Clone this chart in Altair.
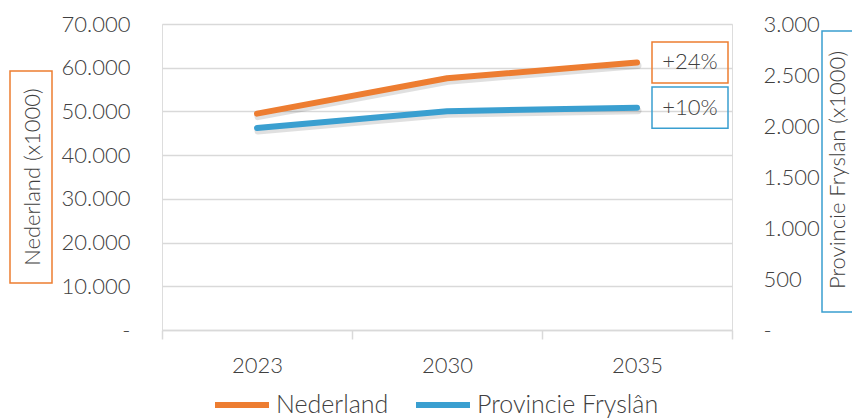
import altair as alt
import pandas as pd

years = ["2023", "2030", "2035"]
nederland = [49500, 57600, 61200]
fryslan = [1980, 2145, 2180]
series_names = ["Nederland", "Provincie Fryslân"]
growth_labels = ["+24%", "+10%"]
left_ticks = [0, 10000, 20000, 30000, 40000, 50000, 60000, 70000]
right_ticks = [0, 500, 1000, 1500, 2000, 2500, 3000]
left_title = "Nederland (x1000)"
right_title = "Provincie Fryslan (x1000)"

ORANGE = "#ED7D31"
BLUE = "#3A9FD0"
TEXT = "#404040"
GRID = "#D9D9D9"
FONT = "Lato"
FS = 22
FW = 300

df_nl = pd.DataFrame({"year": years, "value": nederland, "series": series_names[0]})
df_fy = pd.DataFrame({"year": years, "value": fryslan, "series": series_names[1]})
lab_nl = pd.DataFrame({"year": [years[-1]], "value": [nederland[-1]], "label": [growth_labels[0]]})
lab_fy = pd.DataFrame({"year": [years[-1]], "value": [fryslan[-1]], "label": [growth_labels[1]]})

x_enc = alt.X(
    "year:O",
    bandPosition=0.5,
    scale=alt.Scale(type="band", paddingInner=0, paddingOuter=0),
    axis=alt.Axis(
        title=None, tickBand="extent", domainColor=GRID, tickColor=GRID,
        domainWidth=1.5, tickWidth=1.5, tickSize=9, labelPadding=16,
        labelAngle=0, grid=False, labelFontSize=FS, labelColor=TEXT, labelFont=FONT,
        labelFontWeight=FW,
    ),
)

label_expr = "datum.value == 0 ? '-' : replace(format(datum.value, ','), ',', '.')"

y_nl = alt.Y(
    "value:Q",
    scale=alt.Scale(domain=[0, 70000], nice=False),
    axis=alt.Axis(
        title=None, values=left_ticks, labelExpr=label_expr, orient="left",
        domain=False, ticks=False, labelPadding=32, grid=True, gridColor=GRID,
        gridWidth=1.5, labelFontSize=FS, labelColor=TEXT, labelFont=FONT,
        labelFontWeight=FW,
    ),
)
y_fy = alt.Y(
    "value:Q",
    scale=alt.Scale(domain=[0, 3000], nice=False),
    axis=alt.Axis(
        title=None, values=right_ticks, labelExpr=label_expr, orient="right",
        domain=False, ticks=False, labelPadding=31, grid=False, labelAlign="left",
        labelFontSize=FS, labelColor=TEXT, labelFont=FONT, labelFontWeight=FW,
    ),
)

color = alt.Color(
    "series:N",
    scale=alt.Scale(domain=series_names, range=[ORANGE, BLUE]),
    legend=alt.Legend(
        title=None, orient="none", legendX=50, legendY=351, direction="horizontal",
        symbolType="stroke", symbolSize=2916, symbolStrokeWidth=6,
        labelFontSize=25, labelColor=TEXT, labelFont=FONT, labelFontWeight=FW,
        columnPadding=15, labelOffset=4, labelLimit=400,
    ),
)

BOX = "M-1,-0.54L1,-0.54L1,0.54L-1,0.54Z"
dummy = alt.Data(values=[{"a": 1}])


def series_layer(df, lab, y, col, title, tx, ty, bx, bx2, by, by2):
    shadow = alt.Chart(df).mark_line(
        strokeWidth=7, color="#000000", opacity=0.12, strokeCap="round",
        strokeJoin="round", yOffset=3, xOffset=1,
    ).encode(x=x_enc, y=y)
    line = alt.Chart(df).mark_line(
        strokeWidth=6, strokeCap="round", strokeJoin="round"
    ).encode(x=x_enc, y=y, color=color)
    txt = alt.Chart(lab).mark_text(
        dx=53, fontSize=FS, color=TEXT, font=FONT, fontWeight=FW,
        align="center", baseline="middle",
    ).encode(x=x_enc, y=y, text="label:N")
    box = alt.Chart(lab).mark_point(
        shape=BOX, size=5776, filled=False, stroke=col, strokeWidth=1.5,
        xOffset=53, opacity=1,
    ).encode(x=x_enc, y=y)
    tbox = alt.Chart(dummy).mark_rect(
        fillOpacity=0, stroke=col, strokeWidth=1.5
    ).encode(x=alt.value(bx), x2=alt.value(bx2), y=alt.value(by), y2=alt.value(by2))
    ttxt = alt.Chart(dummy).mark_text(
        angle=270, fontSize=FS, color=TEXT, font=FONT, fontWeight=FW,
        align="center", baseline="middle",
    ).encode(x=alt.value(tx), y=alt.value(ty), text=alt.value(title))
    return alt.layer(shadow, line, txt, box, tbox, ttxt)


layer_nl = series_layer(df_nl, lab_nl, y_nl, ORANGE, left_title, -129, 153, -152, -110, 47, 259)
layer_fy = series_layer(df_fy, lab_fy, y_fy, BLUE, right_title, 676, 146, 660, 704, 7, 288)

chart = (
    alt.layer(layer_nl, layer_fy)
    .resolve_scale(y="independent")
    .properties(
        width=570, height=306, autosize=alt.AutoSizeParams(type="none"),
        padding={"left": 154, "top": 16, "right": 120, "bottom": 88},
    )
    .configure_view(stroke=None)
    .configure(font=FONT)
)

chart.save("out.html", embed_options={"renderer": "svg", "actions": False})
